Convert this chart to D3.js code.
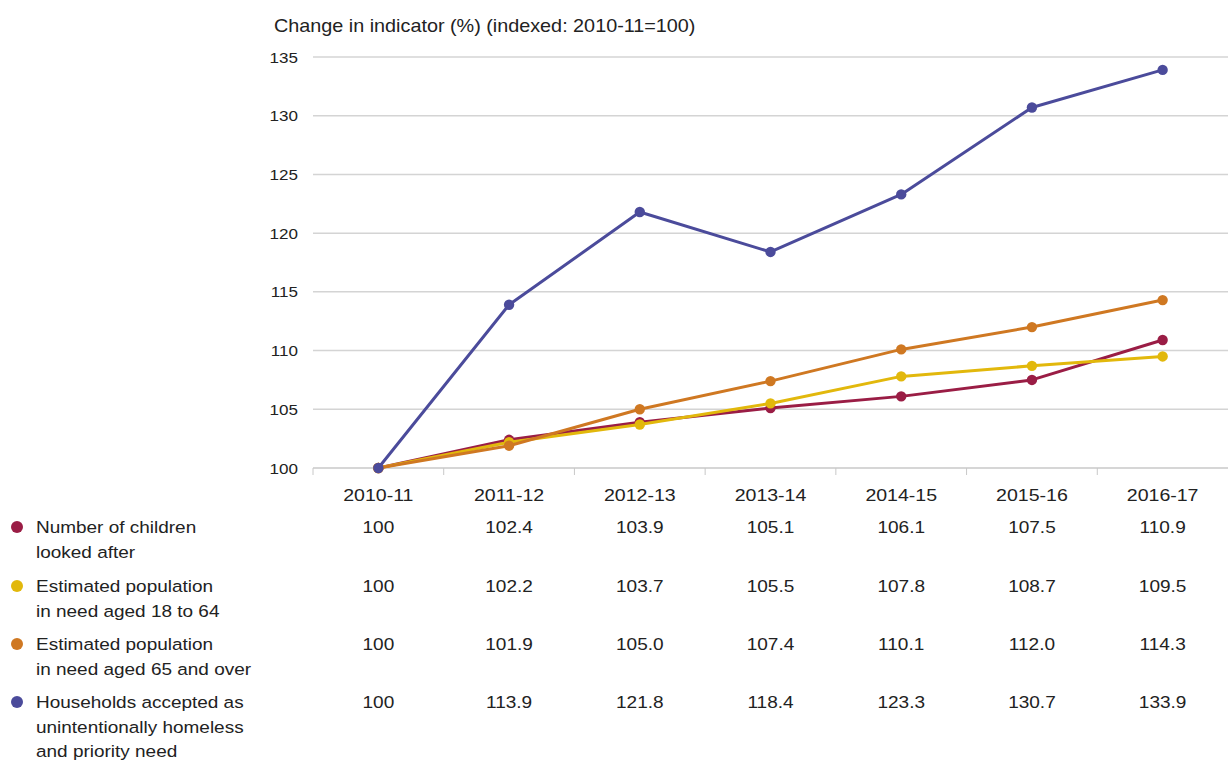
<!DOCTYPE html>
<html><head><meta charset="utf-8">
<script src="https://cdn.jsdelivr.net/npm/d3@7"></script>
<style>body{margin:0;background:#fff;} text{font-family:"Liberation Sans",Arial,sans-serif;fill:#222;}</style>
</head><body>
<svg id="c" width="1228" height="760"></svg>
<script>
const years = ["2010-11","2011-12","2012-13","2013-14","2014-15","2015-16","2016-17"];
const seriesNames = [
  ["Number of children","looked after"],
  ["Estimated population","in need aged 18 to 64"],
  ["Estimated population","in need aged 65 and over"],
  ["Households accepted as","unintentionally homeless","and priority need"]
];
const children = [100,102.4,103.9,105.1,106.1,107.5,110.9];
const pop18to64 = [100,102.2,103.7,105.5,107.8,108.7,109.5];
const pop65plus = [100,101.9,105.0,107.4,110.1,112.0,114.3];
const homeless = [100,113.9,121.8,118.4,123.3,130.7,133.9];
const yTicks = [100,105,110,115,120,125,130,135];
const colors = ["#9a1d45","#e2b80c","#cf7822","#4b4b9b"];
const allSeries = [children,pop18to64,pop65plus,homeless];

const svg = d3.select("#c");
const x = d3.scaleBand().domain(years).range([313,1228]);
const y = d3.scaleLinear().domain([100,135]).range([468,57]);
const cx = d => x(d)+x.bandwidth()/2;

// text helper with slight horizontal stretch (reference type is wide)
function txt(g, tx, ty, str, size, sx, anchor){
  return g.append("text")
    .attr("transform",`translate(${tx},${ty}) scale(${sx},1)`)
    .attr("text-anchor",anchor||"start").style("font-size",size+"px").text(str);
}

txt(svg,274,32,"Change in indicator (%) (indexed: 2010-11=100)",18,1.1);

// gridlines
svg.append("g").selectAll("line").data(yTicks.slice(1)).join("line")
  .attr("x1",313).attr("x2",1228).attr("y1",d=>y(d)).attr("y2",d=>y(d))
  .attr("stroke","#d4d4d4").attr("stroke-width",1.5);

// y labels
const yl = svg.append("g");
yTicks.forEach(t=>txt(yl,298,y(t)+5.5,String(t),15.5,1.1,"end"));

// x axis baseline + ticks at band edges
svg.append("line").attr("x1",313).attr("x2",1228).attr("y1",468).attr("y2",468)
  .attr("stroke","#c8c8c8").attr("stroke-width",1.5);
svg.append("g").selectAll("line").data(years).join("line")
  .attr("x1",d=>x(d)).attr("x2",d=>x(d)).attr("y1",468).attr("y2",475)
  .attr("stroke","#c8c8c8").attr("stroke-width",1);
const xl = svg.append("g");
years.forEach(d=>txt(xl,cx(d),501,d,17,1.15,"middle"));

// lines
const line = d3.line().x((d,i)=>cx(years[i])).y(d=>y(d));
allSeries.forEach((s,k)=>{
  svg.append("path").attr("d",line(s)).attr("fill","none")
    .attr("stroke",colors[k]).attr("stroke-width",3).attr("stroke-linejoin","round");
  svg.append("g").selectAll("circle").data(s).join("circle")
    .attr("cx",(d,i)=>cx(years[i])).attr("cy",d=>y(d)).attr("r",5.2)
    .attr("fill",colors[k]);
});

// table
const rowY = [527,586,644,702];
seriesNames.forEach((lines,k)=>{
  svg.append("circle").attr("cx",17).attr("cy",rowY[k]).attr("r",6).attr("fill",colors[k]);
  const g = svg.append("g");
  lines.forEach((t,j)=>txt(g,36,rowY[k]+6+j*24.5,t,16.5,1.15));
  allSeries[k].forEach((d,i)=>txt(g,cx(years[i]),rowY[k]+6,i===0?"100":d.toFixed(1),17,1.12,"middle"));
});
</script>
</body></html>
